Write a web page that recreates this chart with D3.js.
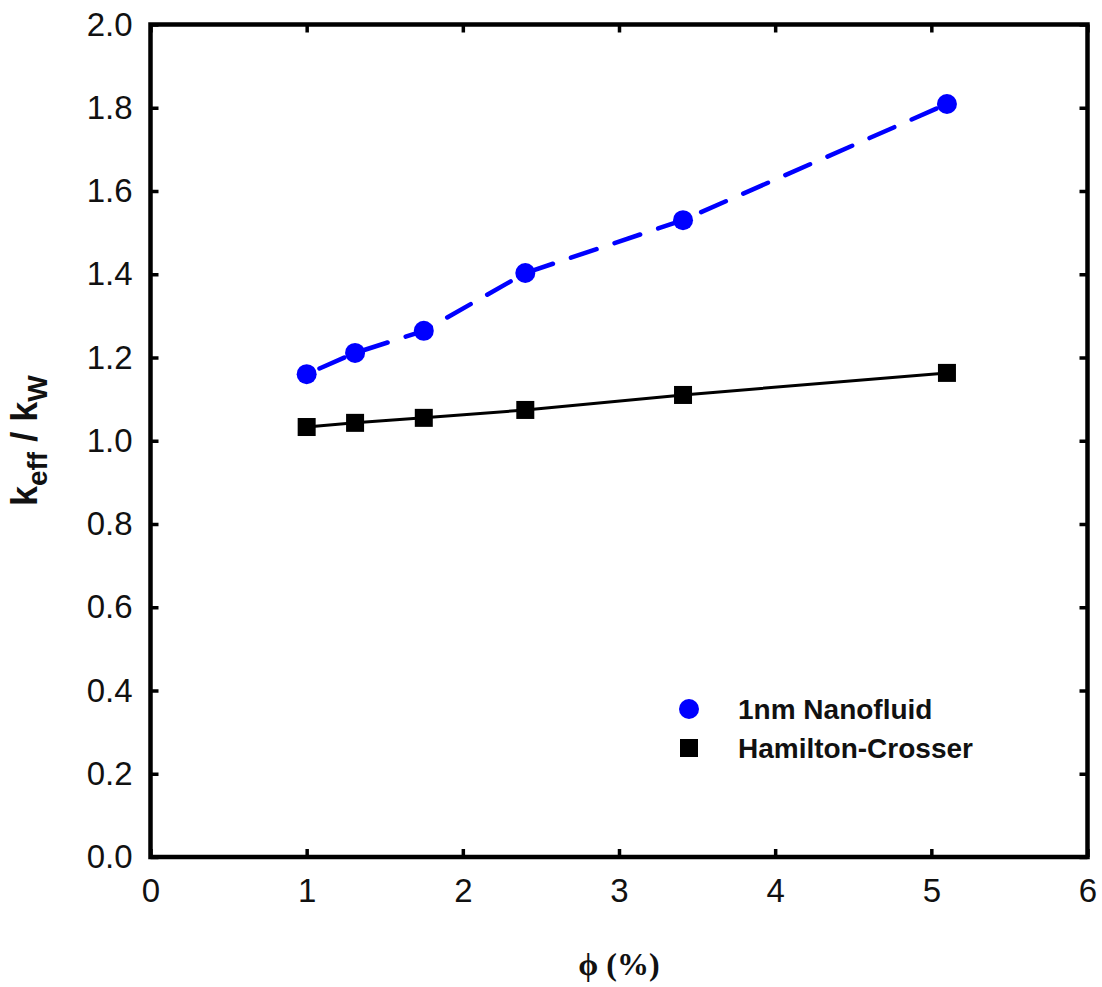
<!DOCTYPE html>
<html><head><meta charset="utf-8">
<script src="https://cdn.jsdelivr.net/npm/d3@7"></script>
<style>body{margin:0;background:#fff}</style>
</head><body>
<svg id="c" width="1102" height="987"></svg>
<script>
const phi = [1.0, 1.31, 1.75, 2.40, 3.41, 5.10];
const nanofluid = [1.160, 1.211, 1.264, 1.403, 1.530, 1.809];
const hamiltonCrosser = [1.033, 1.043, 1.055, 1.074, 1.110, 1.163];
const xTicks = [0, 1, 2, 3, 4, 5, 6];
const yTicks = [0.0, 0.2, 0.4, 0.6, 0.8, 1.0, 1.2, 1.4, 1.6, 1.8, 2.0];
const seriesNames = ["1nm Nanofluid", "Hamilton-Crosser"];

const svg = d3.select("#c");
const L = 150.5, R = 1087.5, T = 24.5, B = 857;
const x = d3.scaleLinear().domain([0, 6]).range([L, R]);
const y = d3.scaleLinear().domain([0, 2]).range([B, T]);

const font = "'Liberation Sans', Arial, sans-serif";

const tickLen = 8;
const axBottom = d3.axisBottom(x).tickValues(xTicks).tickSize(-tickLen).tickPadding(22).tickFormat(d3.format("d"));
const axTop = d3.axisTop(x).tickValues(xTicks).tickSize(-tickLen).tickFormat("");
const axLeft = d3.axisLeft(y).tickValues(yTicks).tickSize(-tickLen).tickPadding(18).tickFormat(d3.format(".1f"));
const axRight = d3.axisRight(y).tickValues(yTicks).tickSize(-tickLen).tickFormat("");

function style(g){
  g.select(".domain").remove();
  g.selectAll(".tick line").attr("stroke", "#000").attr("stroke-width", 3.5);
  g.selectAll(".tick text").attr("font-family", font).attr("font-size", 33).attr("fill", "#111");
}
svg.append("g").attr("transform", `translate(0,${B})`).call(axBottom).call(style);
svg.append("g").attr("transform", `translate(0,${T})`).call(axTop).call(style);
svg.append("g").attr("transform", `translate(${L},0)`).call(axLeft).call(style);
svg.append("g").attr("transform", `translate(${R},0)`).call(axRight).call(style);

svg.append("rect").attr("x", L).attr("y", T).attr("width", R - L).attr("height", B - T)
  .attr("fill", "none").attr("stroke", "#000").attr("stroke-width", 4.5);

const line = d3.line().x(d => x(d[0])).y(d => y(d[1]));
const hcPts = phi.map((p, i) => [p, hamiltonCrosser[i]]);
const nfPts = phi.map((p, i) => [p, nanofluid[i]]);

svg.append("path").datum(hcPts).attr("d", line).attr("fill", "none")
  .attr("stroke", "#000").attr("stroke-width", 3);
svg.append("path").datum(nfPts).attr("d", line).attr("fill", "none")
  .attr("stroke", "#0000ff").attr("stroke-width", 4.5).attr("stroke-linecap", "round")
  .attr("stroke-dasharray", "27,19").attr("stroke-dashoffset", -14);

const sq = 18;
svg.append("g").selectAll("rect").data(hcPts).join("rect")
  .attr("x", d => x(d[0]) - sq / 2).attr("y", d => y(d[1]) - sq / 2)
  .attr("width", sq).attr("height", sq).attr("fill", "#000");
svg.append("g").selectAll("circle").data(nfPts).join("circle")
  .attr("cx", d => x(d[0])).attr("cy", d => y(d[1])).attr("r", 10).attr("fill", "#0000ff");

const lg = svg.append("g");
lg.append("circle").attr("cx", 689).attr("cy", 709).attr("r", 10).attr("fill", "#0000ff");
lg.append("rect").attr("x", 689 - 9).attr("y", 748 - 9).attr("width", 18).attr("height", 18).attr("fill", "#000");
lg.selectAll("text").data(seriesNames).join("text")
  .attr("x", 738).attr("y", (d, i) => 709 + i * 39).attr("dy", "0.35em")
  .attr("font-family", font).attr("font-weight", "bold").attr("font-size", 28).attr("fill", "#111")
  .text(d => d);

svg.append("text").attr("x", (L + R) / 2).attr("y", 975).attr("text-anchor", "middle")
  .attr("font-family", "'Liberation Serif', 'Times New Roman', serif").attr("font-weight", "bold")
  .attr("font-size", 32).attr("fill", "#111").text("ϕ (%)");

const yl = svg.append("text").attr("transform", `translate(37,${(T + B) / 2}) rotate(-90)`)
  .attr("text-anchor", "middle").attr("font-family", font).attr("font-weight", "bold")
  .attr("font-size", 36).attr("fill", "#111");
yl.append("tspan").text("k");
yl.append("tspan").attr("font-size", 28).attr("dy", 10).text("eff");
yl.append("tspan").attr("dy", -10).text(" / k");
yl.append("tspan").attr("font-size", 28).attr("dy", 10).text("W");
</script>
</body></html>
